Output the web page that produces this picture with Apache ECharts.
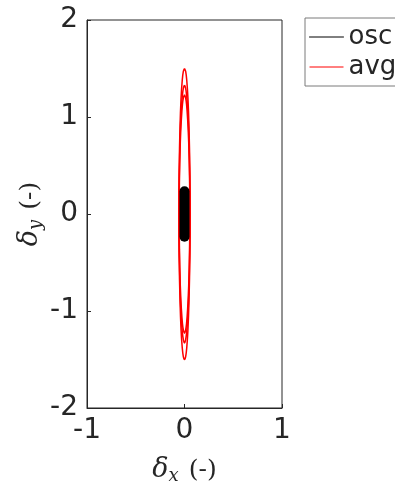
<!DOCTYPE html>
<html><head><meta charset="utf-8">
<script src="https://cdn.jsdelivr.net/npm/echarts@6/dist/echarts.min.js"></script>
<style>html,body{margin:0;padding:0;background:#fff}#c{width:395px;height:484px}</style>
</head><body><div id="c"></div>
<script>
// tick labels
const xTicks = [-1, 0, 1];
const yTicks = [-2, -1, 0, 1, 2];
// "osc" : black filled oscillation band (centre line, drawn thick)
const oscPts = [[0, -0.235], [0, 0.235]];
// "avg" : nested red ellipses
const avgOuter = [[0,1.5],[0.012,1.47],[0.023,1.38],[0.035,1.2],[0.046,0.9],[0.055,0.45],[0.058,0],[0.055,-0.45],[0.046,-0.9],[0.035,-1.2],[0.023,-1.38],[0.012,-1.47],[0,-1.5],[-0.012,-1.47],[-0.023,-1.38],[-0.035,-1.2],[-0.046,-0.9],[-0.055,-0.45],[-0.058,0],[-0.055,0.45],[-0.046,0.9],[-0.035,1.2],[-0.023,1.38],[-0.012,1.47],[0,1.5]];
const avgMid = [[0,1.33],[0.011,1.3],[0.022,1.22],[0.034,1.06],[0.045,0.8],[0.053,0.4],[0.056,0],[0.053,-0.4],[0.045,-0.8],[0.034,-1.06],[0.022,-1.22],[0.011,-1.3],[0,-1.33],[-0.011,-1.3],[-0.022,-1.22],[-0.034,-1.06],[-0.045,-0.8],[-0.053,-0.4],[-0.056,0],[-0.053,0.4],[-0.045,0.8],[-0.034,1.06],[-0.022,1.22],[-0.011,1.3],[0,1.33]];
const avgInner = [[0,1.23],[0.011,1.2],[0.021,1.13],[0.032,0.98],[0.043,0.74],[0.052,0.37],[0.054,0],[0.052,-0.37],[0.043,-0.74],[0.032,-0.98],[0.021,-1.13],[0.011,-1.2],[0,-1.23],[-0.011,-1.2],[-0.021,-1.13],[-0.032,-0.98],[-0.043,-0.74],[-0.052,-0.37],[-0.054,0],[-0.052,0.37],[-0.043,0.74],[-0.032,0.98],[-0.021,1.13],[-0.011,1.2],[0,1.23]];

const fontF = 'DejaVu Sans';
const ink = '#262626';
const chart = echarts.init(document.getElementById('c'));
function avgSeries(d){
  return {name:'avg', type:'line', data:d, smooth:0.3, symbol:'none', clip:false,
    lineStyle:{color:'#ff0000', width:1.5}, itemStyle:{color:'#ff0000'}, z:2};
}
const axisName = () => ({
  rich:{
    d:{fontFamily:'DejaVu Serif', fontStyle:'italic', fontSize:27, color:ink},
    s:{fontFamily:'DejaVu Serif', fontStyle:'italic', fontSize:18, color:ink, padding:[12,0,0,0]},
    p:{fontFamily:'DejaVu Serif', fontSize:25, color:ink, padding:[0,0,0,10]}
  }
});
chart.setOption({
  animation:false,
  grid:{left:87, top:20, width:195, height:388, outerBoundsMode:'none', containLabel:false,
    show:true, borderColor:ink, borderWidth:1, backgroundColor:'#fff'},
  legend:{
    orient:'vertical', left:305, top:18, width:120, itemWidth:34, itemHeight:14, itemGap:4,
    padding:[6,8,6,4], borderColor:'#7a7a7a', borderWidth:1, borderRadius:0,
    textStyle:{fontFamily:fontF, fontSize:26, color:ink},
    data:[
      {name:'osc', itemStyle:{opacity:0}, lineStyle:{width:1, color:'#000'}},
      {name:'avg', itemStyle:{opacity:0}, lineStyle:{width:1, color:'#ff0000'}}
    ]
  },
  xAxis:{type:'value', min:xTicks[0], max:xTicks[xTicks.length-1], interval:1,
    axisLine:{show:true, onZero:false, lineStyle:{color:ink}},
    axisTick:{show:true, inside:true, length:4, lineStyle:{color:ink}},
    splitLine:{show:false},
    axisLabel:{fontFamily:fontF, fontSize:28, color:ink, margin:9, showMinLabel:true, showMaxLabel:true},
    name:'{d|δ}{s|x}{p|(-)}', nameLocation:'middle', nameGap:47,
    nameTextStyle:axisName()
  },
  yAxis:{type:'value', min:yTicks[0], max:yTicks[yTicks.length-1], interval:1,
    axisLine:{show:true, onZero:false, lineStyle:{color:ink}},
    axisTick:{show:true, inside:true, length:4, lineStyle:{color:ink}},
    splitLine:{show:false},
    axisLabel:{fontFamily:fontF, fontSize:28, color:ink, margin:9},
    name:'{d|δ}{s|y}{p|(-)}', nameLocation:'middle', nameGap:42,
    nameTextStyle:axisName()
  },
  series:[
    {name:'osc', type:'line', data:oscPts, symbol:'none', z:3,
      lineStyle:{color:'#000', width:10, cap:'round'}, itemStyle:{color:'#000'}},
    avgSeries(avgOuter), avgSeries(avgMid), avgSeries(avgInner)
  ]
});
</script></body></html>
